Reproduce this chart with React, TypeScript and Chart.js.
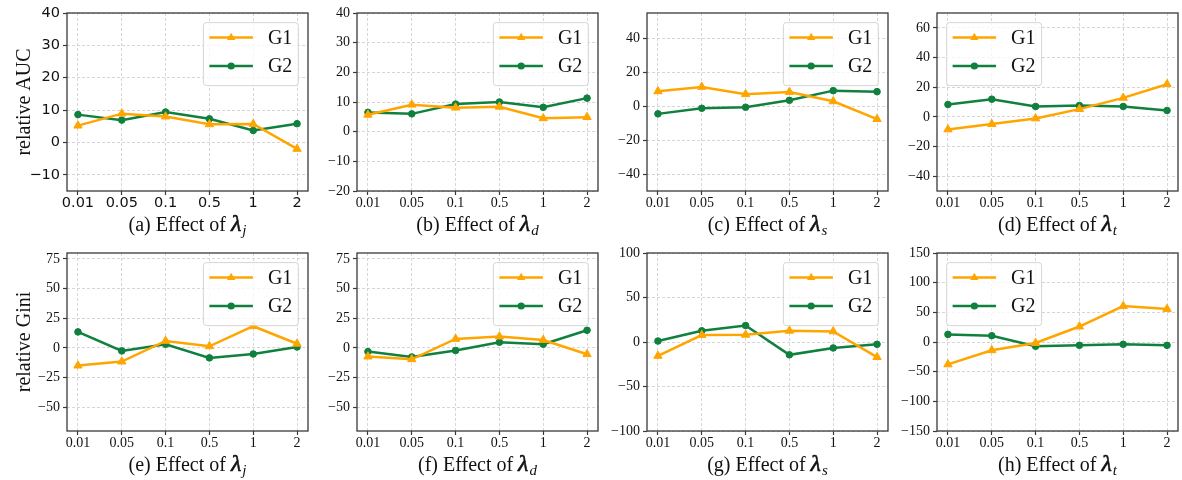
import React, { useEffect, useRef } from 'react';
import { Chart, registerables } from 'chart.js';

Chart.register(...registerables);

const SERIF = "'Liberation Serif', 'Times New Roman', serif";
const SANS = "'DejaVu Sans', sans-serif";
const ORANGE = '#FFA500';
const GREEN = '#10803e';

// ---- data ----
const xLabels = ['0.01', '0.05', '0.1', '0.5', '1', '2'];

const aucJ_G1 = [5.2, 8.9, 8.0, 5.6, 5.7, -2.0];
const aucJ_G2 = [8.6, 6.9, 9.4, 7.3, 3.7, 5.8];
const aucD_G1 = [5.7, 9.1, 8.1, 8.4, 4.5, 4.9];
const aucD_G2 = [6.5, 6.0, 9.3, 10.0, 8.2, 11.3];
const aucS_G1 = [8.8, 11.4, 7.1, 8.4, 2.9, -7.6];
const aucS_G2 = [-4.5, -1.2, -0.6, 3.5, 9.2, 8.6];
const aucT_G1 = [-8.5, -4.9, -1.1, 5.2, 12.8, 22.0];
const aucT_G2 = [8.3, 11.9, 7.0, 7.6, 7.0, 4.3];

const giniJ_G1 = [-14.9, -11.5, 5.9, 1.4, 18.3, 3.5];
const giniJ_G2 = [13.5, -2.5, 3.1, -8.4, -5.1, 0.8];
const giniD_G1 = [-7.3, -9.6, 7.6, 9.6, 6.7, -5.3];
const giniD_G2 = [-3.1, -7.6, -2.2, 4.8, 3.1, 14.9];
const giniS_G1 = [-15.6, 7.8, 8.1, 12.6, 11.9, -17.0];
const giniS_G2 = [1.1, 12.6, 18.5, -14.4, -6.7, -2.6];
const giniT_G1 = [-37.8, -13.9, -1.7, 26.1, 60.6, 55.6];
const giniT_G2 = [12.8, 10.6, -7.2, -5.6, -3.9, -5.6];

const ticksAucJ = [-10, 0, 10, 20, 30, 40];
const ticksAucD = [-20, -10, 0, 10, 20, 30, 40];
const ticksAucS = [-40, -20, 0, 20, 40];
const ticksAucT = [-40, -20, 0, 20, 40, 60];
const ticksGini = [-50, -25, 0, 25, 50, 75];
const ticksGiniS = [-100, -50, 0, 50, 100];
const ticksGiniT = [-150, -100, -50, 0, 50, 100, 150];

const seriesNames = ['G1', 'G2'];

type PanelCfg = {
  tag: string;
  sub: string;
  g1: number[];
  g2: number[];
  yTicks: number[];
  yMin: number;
  yMax: number;
  legendLeft: boolean;
  yLabel?: string;
  sansTicks?: boolean;
  col: number;
  row: number;
};

const panels: PanelCfg[] = [
  { tag: 'a', sub: 'j', g1: aucJ_G1, g2: aucJ_G2, yTicks: ticksAucJ, yMin: -15, yMax: 40, legendLeft: false, yLabel: 'relative AUC', sansTicks: true, col: 0, row: 0 },
  { tag: 'b', sub: 'd', g1: aucD_G1, g2: aucD_G2, yTicks: ticksAucD, yMin: -20, yMax: 40, legendLeft: false, col: 1, row: 0 },
  { tag: 'c', sub: 's', g1: aucS_G1, g2: aucS_G2, yTicks: ticksAucS, yMin: -50, yMax: 55, legendLeft: false, col: 2, row: 0 },
  { tag: 'd', sub: 't', g1: aucT_G1, g2: aucT_G2, yTicks: ticksAucT, yMin: -50, yMax: 70, legendLeft: true, col: 3, row: 0 },
  { tag: 'e', sub: 'j', g1: giniJ_G1, g2: giniJ_G2, yTicks: ticksGini, yMin: -70, yMax: 80, legendLeft: false, yLabel: 'relative Gini', col: 0, row: 1 },
  { tag: 'f', sub: 'd', g1: giniD_G1, g2: giniD_G2, yTicks: ticksGini, yMin: -70, yMax: 80, legendLeft: false, col: 1, row: 1 },
  { tag: 'g', sub: 's', g1: giniS_G1, g2: giniS_G2, yTicks: ticksGiniS, yMin: -100, yMax: 100, legendLeft: false, col: 2, row: 1 },
  { tag: 'h', sub: 't', g1: giniT_G1, g2: giniT_G2, yTicks: ticksGiniT, yMin: -150, yMax: 150, legendLeft: true, col: 3, row: 1 },
];

// ---- layout ----
const PLOT_W = 241;
const PLOT_H = 178;
const PAD_L = 67;
const PAD_T = 13;
const PAD_R = 12;
const PAD_B = 49;
const CANVAS_W = PAD_L + PLOT_W + PAD_R;
const CANVAS_H = PAD_T + PLOT_H + PAD_B;

const fmtNum = (v: number) => (v < 0 ? '\u2212' + String(Math.abs(v)) : String(v));

function drawTriangle(ctx: CanvasRenderingContext2D, x: number, y: number, r: number) {
  ctx.beginPath();
  ctx.moveTo(x, y - r);
  ctx.lineTo(x + r * Math.sin((2 * Math.PI) / 3), y - r * Math.cos((2 * Math.PI) / 3));
  ctx.lineTo(x + r * Math.sin((4 * Math.PI) / 3), y - r * Math.cos((4 * Math.PI) / 3));
  ctx.closePath();
  ctx.fill();
}

function makeDeco(cfg: PanelCfg) {
  return {
    id: 'deco',
    afterDatasetsDraw(chart: any) {
      const ctx: CanvasRenderingContext2D = chart.ctx;
      const a = chart.chartArea;
      // legend box
      const bw = 95;
      const bh = 63;
      const bx = cfg.legendLeft ? a.left + 9.6 : a.right - 9.6 - bw;
      const by = a.top + 9.6;
      ctx.save();
      ctx.beginPath();
      const rr = 3;
      ctx.moveTo(bx + rr, by);
      ctx.lineTo(bx + bw - rr, by);
      ctx.quadraticCurveTo(bx + bw, by, bx + bw, by + rr);
      ctx.lineTo(bx + bw, by + bh - rr);
      ctx.quadraticCurveTo(bx + bw, by + bh, bx + bw - rr, by + bh);
      ctx.lineTo(bx + rr, by + bh);
      ctx.quadraticCurveTo(bx, by + bh, bx, by + bh - rr);
      ctx.lineTo(bx, by + rr);
      ctx.quadraticCurveTo(bx, by, bx + rr, by);
      ctx.closePath();
      ctx.fillStyle = 'rgba(255,255,255,0.8)';
      ctx.fill();
      ctx.strokeStyle = 'rgba(204,204,204,0.8)';
      ctx.lineWidth = 1;
      ctx.stroke();
      const rows = [by + 15, by + 43.4];
      const colors = [ORANGE, GREEN];
      rows.forEach((ry, i) => {
        ctx.strokeStyle = colors[i];
        ctx.fillStyle = colors[i];
        ctx.lineWidth = 2.5;
        ctx.beginPath();
        ctx.moveTo(bx + 6, ry);
        ctx.lineTo(bx + 49.5, ry);
        ctx.stroke();
        const mx = bx + 27.75;
        if (i === 0) drawTriangle(ctx, mx, ry, 4.8);
        else {
          ctx.beginPath();
          ctx.arc(mx, ry, 3.6, 0, Math.PI * 2);
          ctx.fill();
        }
        ctx.fillStyle = '#111';
        ctx.font = `20px ${SERIF}`;
        ctx.textAlign = 'left';
        ctx.textBaseline = 'middle';
        ctx.fillText(seriesNames[i], bx + 64.5, ry + 1);
      });
      ctx.restore();
    },
    afterDraw(chart: any) {
      const ctx: CanvasRenderingContext2D = chart.ctx;
      const a = chart.chartArea;
      ctx.save();
      // spines
      ctx.strokeStyle = '#3a3a3a';
      ctx.lineWidth = 1.3;
      ctx.strokeRect(a.left, a.top, a.right - a.left, a.bottom - a.top);
      // x title
      const prefix = `(${cfg.tag}) Effect of `;
      const f1 = `20px ${SERIF}`;
      const f2 = `italic 24px ${SERIF}`;
      const f3 = `italic 15px ${SERIF}`;
      ctx.font = f1;
      const w1 = ctx.measureText(prefix).width;
      ctx.font = f2;
      const w2 = ctx.measureText('\u03bb').width;
      ctx.font = f3;
      const w3 = ctx.measureText(cfg.sub).width;
      const cx = (a.left + a.right) / 2;
      const base = a.bottom + 40;
      let x = cx - (w1 + w2 + w3 + 1) / 2;
      ctx.fillStyle = '#111';
      ctx.textAlign = 'left';
      ctx.textBaseline = 'alphabetic';
      ctx.font = f1;
      ctx.fillText(prefix, x, base);
      x += w1;
      ctx.font = f2;
      ctx.fillText('\u03bb', x, base);
      ctx.lineWidth = 0.6;
      ctx.strokeStyle = '#111';
      ctx.strokeText('\u03bb', x, base);
      x += w2 + 1;
      ctx.font = f3;
      ctx.fillText(cfg.sub, x, base + 4);
      // y label
      if (cfg.yLabel) {
        ctx.translate(30, (a.top + a.bottom) / 2);
        ctx.rotate(-Math.PI / 2);
        ctx.font = `20px ${SERIF}`;
        ctx.textAlign = 'center';
        ctx.textBaseline = 'alphabetic';
        ctx.fillText(cfg.yLabel, 0, 0);
      }
      ctx.restore();
    },
  };
}

function Panel({ cfg }: { cfg: PanelCfg }) {
  const ref = useRef<HTMLCanvasElement>(null);
  useEffect(() => {
    const canvas = ref.current;
    if (!canvas) return;
    const tickFont = cfg.sansTicks ? { family: SANS, size: 14.5 } : { family: SERIF, size: 14 };
    const grid = {
      color: '#cccccc',
      lineWidth: 0.8,
      drawTicks: true,
      tickLength: 4,
      tickColor: '#3a3a3a',
      tickWidth: 1.2,
      tickBorderDash: [],
    };
    const border = { display: false, dash: [3, 2] };
    const chart = new Chart(canvas, {
      type: 'line',
      data: {
        datasets: [
          {
            label: seriesNames[0],
            data: cfg.g1.map((v, i) => ({ x: i, y: v })),
            borderColor: ORANGE,
            backgroundColor: ORANGE,
            borderWidth: 2.5,
            pointStyle: 'triangle',
            pointRadius: 4.8,
            pointBorderWidth: 1,
            pointBackgroundColor: ORANGE,
            pointBorderColor: ORANGE,
            tension: 0,
          },
          {
            label: seriesNames[1],
            data: cfg.g2.map((v, i) => ({ x: i, y: v })),
            borderColor: GREEN,
            backgroundColor: GREEN,
            borderWidth: 2.5,
            pointStyle: 'circle',
            pointRadius: 3.3,
            pointBorderWidth: 1,
            pointBackgroundColor: GREEN,
            pointBorderColor: GREEN,
            tension: 0,
          },
        ],
      },
      options: {
        responsive: false,
        animation: false,
        devicePixelRatio: 1,
        events: [],
        layout: { padding: { top: PAD_T, right: PAD_R, left: 0, bottom: 0 } },
        plugins: { legend: { display: false }, tooltip: { enabled: false } },
        scales: {
          x: {
            type: 'linear',
            min: -0.25,
            max: 5.25,
            bounds: 'data',
            afterBuildTicks: (s: any) => {
              s.ticks = xLabels.map((_, i) => ({ value: i }));
            },
            afterFit: (s: any) => {
              s.height = PAD_B;
            },
            ticks: {
              callback: (v: any) => xLabels[v as number] ?? '',
              font: tickFont,
              color: '#111',
              padding: 0,
              maxRotation: 0,
              autoSkip: false,
            },
            grid,
            border,
          },
          y: {
            type: 'linear',
            min: cfg.yMin,
            max: cfg.yMax,
            bounds: 'data',
            afterBuildTicks: (s: any) => {
              s.ticks = cfg.yTicks.map((v) => ({ value: v }));
            },
            afterFit: (s: any) => {
              s.width = PAD_L;
            },
            ticks: {
              callback: (v: any) => fmtNum(v as number),
              font: tickFont,
              color: '#111',
              padding: 3,
              autoSkip: false,
            },
            grid,
            border,
          },
        },
      } as any,
      plugins: [makeDeco(cfg)],
    });
    return () => chart.destroy();
  }, [cfg]);
  return (
    <canvas
      ref={ref}
      width={CANVAS_W}
      height={CANVAS_H}
      style={{
        position: 'absolute',
        left: cfg.col * 290,
        top: cfg.row * 240,
        width: CANVAS_W,
        height: CANVAS_H,
      }}
    />
  );
}

export default function App() {
  return (
    <div
      style={{
        position: 'absolute',
        left: 0,
        top: 0,
        width: 1182,
        height: 480,
        background: '#ffffff',
        overflow: 'hidden',
      }}
    >
      {panels.map((p) => (
        <Panel key={p.tag} cfg={p} />
      ))}
    </div>
  );
}
